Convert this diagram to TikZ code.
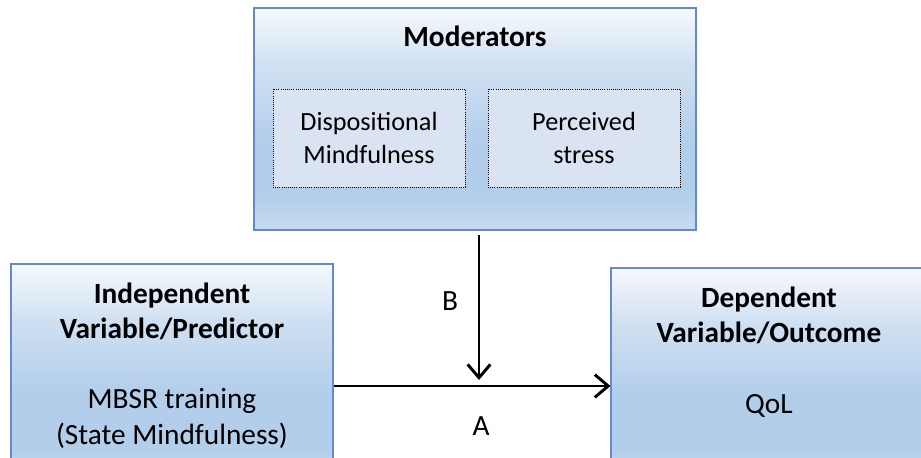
\documentclass[tikz,border=0pt]{standalone}
\usepackage{fontspec}
\setmainfont{Carlito}
\usetikzlibrary{arrows.meta}
\definecolor{boxline}{RGB}{98,136,214}
\definecolor{gtop}{RGB}{246,249,253}
\definecolor{gmid}{RGB}{208,224,242}
\definecolor{gdark}{RGB}{178,206,234}
\definecolor{gbot}{RGB}{198,219,240}
\definecolor{innerfill}{RGB}{218,227,242}
\pgfdeclareverticalshading{panelgrad}{100bp}{%
  color(0bp)=(gbot); color(25bp)=(gbot); color(33bp)=(gdark);
  color(45bp)=(gdark); color(62bp)=(gmid); color(75bp)=(gtop); color(100bp)=(gtop)}
\tikzset{
  panel/.style={draw=boxline, line width=0.8pt, shading=panelgrad, rectangle, inner sep=0pt},
  inner/.style={draw=black, densely dotted, line width=0.6pt, fill=innerfill, rectangle, inner sep=0pt},
  small/.style={anchor=base, inner sep=0pt, font=\fontsize{19.7}{24}\selectfont},
  lbl/.style={anchor=base, inner sep=0pt, font=\fontsize{22}{26}\selectfont},
  title/.style={anchor=base, inner sep=0pt, font=\bfseries\fontsize{22}{26}\selectfont},
  arr/.style={line width=2.2pt, -{Straight Barb[length=10pt,width=17pt,line width=2.2pt]}}
}
\begin{document}
\begin{tikzpicture}[x=0.75pt,y=-0.75pt]
\clip (0,0) rectangle (921,457);
\fill[white] (0,0) rectangle (921,457);

% Moderators panel with its two dotted sub-boxes
\node[panel, minimum width=442*0.75pt, minimum height=222*0.75pt] (mod) at (475,119) {};
\node[title] (modt) at (475,46) {Moderators};
\node[inner, minimum width=192*0.75pt, minimum height=98*0.75pt] (disp) at (369,138) {};
\node[small] (disp1) at (369,130) {Dispositional};
\node[small] (disp2) at (369,163) {Mindfulness};
\node[inner, minimum width=192*0.75pt, minimum height=98*0.75pt] (stress) at (584,138) {};
\node[small] (stress1) at (584,130) {Perceived};
\node[small] (stress2) at (584,163) {stress};

% Independent variable panel (runs off the bottom edge)
\node[panel, minimum width=322*0.75pt, minimum height=216*0.75pt] (ind) at (172,372) {};
\node[title] (ind1) at (172,303) {Independent};
\node[title] (ind2) at (172,338) {Variable/Predictor};
\node[lbl] (ind3) at (172,408) {MBSR training};
\node[lbl] (ind4) at (172,444) {(State Mindfulness)};

% Dependent variable panel (runs off the right and bottom edges)
\node[panel, minimum width=330*0.75pt, minimum height=212*0.75pt] (dep) at (776,374) {};
\node[title] (dep1) at (769,307) {Dependent};
\node[title] (dep2) at (769,342) {Variable/Outcome};
\node[lbl] (dep3) at (769,413) {QoL};

% Connectors
\coordinate (btop) at (479,235);
\coordinate (bend) at (479,380);
\coordinate (aline) at (479,386);
\draw[arr] (btop) -- (bend);
\draw[arr] (aline -| ind.east) -- (aline -| dep.west);
\node[lbl] (lb) at (450,310) {B};
\node[lbl] (la) at (481,435) {A};
\end{tikzpicture}
\end{document}
